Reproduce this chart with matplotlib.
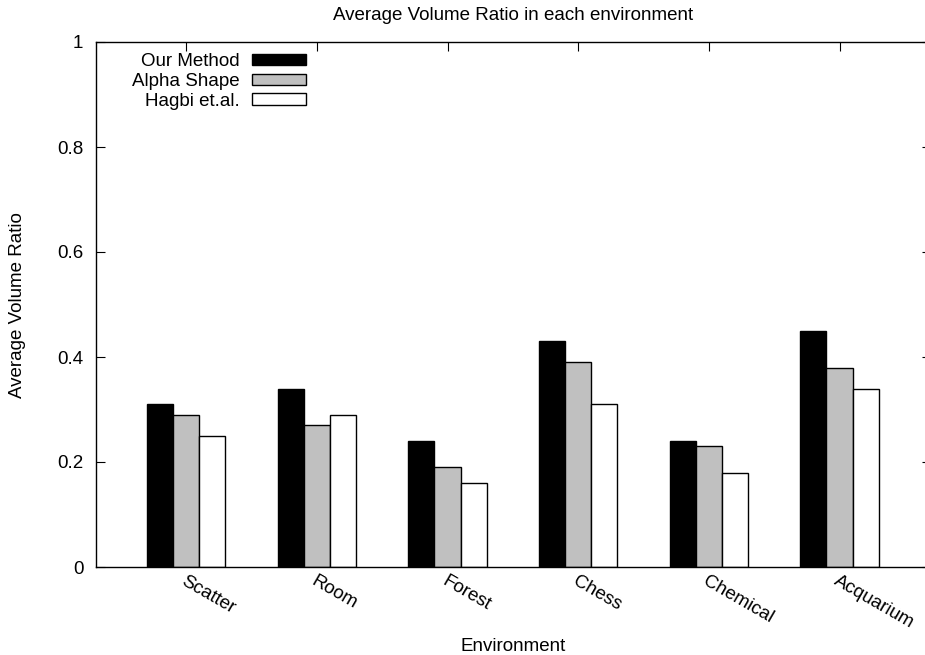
import matplotlib
matplotlib.use('Agg')
from matplotlib import pyplot as plt
from matplotlib import transforms
import numpy as np

plt.rcParams['font.family'] = ['Liberation Sans', 'DejaVu Sans']

environments = ['Scatter', 'Room', 'Forest', 'Chess', 'Chemical', 'Acquarium']
our_method = [0.31, 0.34, 0.24, 0.43, 0.24, 0.45]
alpha_shape = [0.29, 0.27, 0.19, 0.39, 0.23, 0.38]
hagbi = [0.25, 0.29, 0.16, 0.31, 0.18, 0.34]

series = [('Our Method', our_method, 'black'),
          ('Alpha Shape', alpha_shape, '#c0c0c0'),
          ('Hagbi et.al.', hagbi, 'white')]

FS = 13.5
W, H = 925, 655
fig = plt.figure(figsize=(W / 100, H / 100), dpi=100)
# axes box in pixels: left 96, right ~931 (cut off), top 42, bottom 567
ax = fig.add_axes([96 / W, 1 - 567 / H, (931 - 96) / W, (567 - 42) / H])

x = np.arange(len(environments))
width = 0.2
for i, (name, vals, color) in enumerate(series):
    ax.bar(x + (i - 1) * width, vals, width, color=color,
           edgecolor='black', linewidth=1.0, label=name)

ax.set_xlim(-0.69, 5.7)
ax.set_ylim(0, 1)
ax.set_yticks([0, 0.2, 0.4, 0.6, 0.8, 1.0])
ax.set_yticklabels(['0', '0.2', '0.4', '0.6', '0.8', '1'])
ax.set_xticks(x)
ax.set_xticklabels(environments, rotation=-30, ha='left', va='top',
                   rotation_mode='anchor')
# nudge rotated labels a little to the right, like gnuplot does
shift = transforms.ScaledTranslation(5 / 100, 0, fig.dpi_scale_trans)
for lab in ax.get_xticklabels():
    lab.set_transform(lab.get_transform() + shift)
ax.set_axisbelow(True)
ax.tick_params(direction='in', length=6.5, width=0.8, top=True, right=True,
               labelsize=FS)
ax.tick_params(axis='x', pad=4)
ax.tick_params(axis='y', pad=9)
for s in ax.spines.values():
    s.set_linewidth(1.0)

cx = (96 + 931) / 2 / W
fig.text(18 / W, 1 - 305 / H, 'Average Volume Ratio', rotation=90,
         ha='center', va='center', fontsize=FS)
fig.text(cx, 1 - 651 / H, 'Environment', ha='center', va='baseline',
         fontsize=FS)
fig.text(cx, 1 - 20 / H, 'Average Volume Ratio in each environment',
         ha='center', va='baseline', fontsize=FS)

leg = ax.legend(loc='upper right', bbox_to_anchor=(306 / W, 1 - 53 / H),
                bbox_transform=fig.transFigure, frameon=False,
                markerfirst=False, fontsize=FS, borderpad=0,
                handlelength=2.9, handleheight=0.55, handletextpad=0.65,
                labelspacing=0.15, borderaxespad=0)

fig.savefig('out.png', dpi=100)
